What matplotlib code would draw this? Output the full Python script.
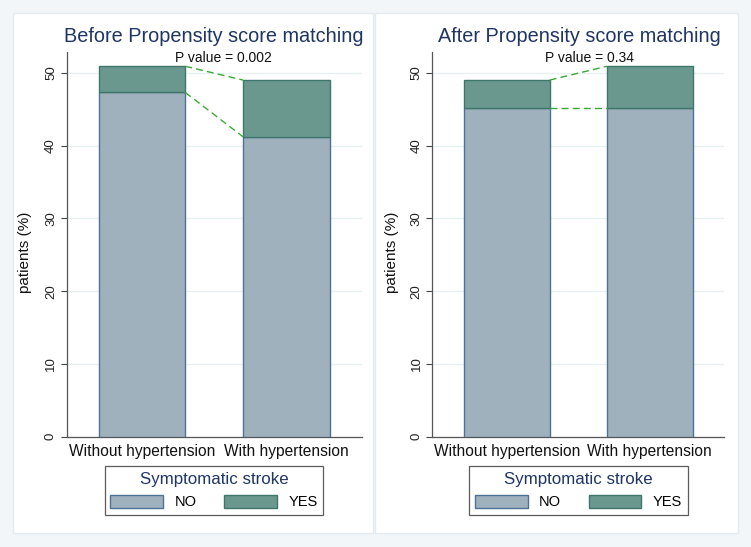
import matplotlib
matplotlib.use("Agg")
import matplotlib.pyplot as plt
from matplotlib.patches import Rectangle, Patch

categories = ["Without hypertension", "With hypertension"]
before_no = [47.3, 41.2]
before_yes = [3.6, 7.8]
after_no = [45.2, 45.2]
after_yes = [3.8, 5.7]
titles = ["Before Propensity score matching", "After Propensity score matching"]
pvalues = ["P value = 0.002", "P value = 0.34"]
yticks = [0, 10, 20, 30, 40, 50]

W, H = 751, 547
plt.rcParams["font.family"] = ["Liberation Sans", "DejaVu Sans"]
fig = plt.figure(figsize=(W / 100, H / 100), dpi=100)
fig.patch.set_facecolor("#f3f6f9")

NO_FC, NO_EC = "#a0b1be", "#4f7196"
YES_FC, YES_EC = "#6a988f", "#3e766c"
NAVY = "#1f3563"
GREEN = "#3aaa35"

def px(x0, y0, x1, y1):
    return [x0 / W, 1 - y1 / H, (x1 - x0) / W, (y1 - y0) / H]

panels = [(13, 13, 373, 533), (375, 13, 738, 533)]
for (x0, y0, x1, y1) in panels:
    fig.patches.append(Rectangle((x0 / W, 1 - y1 / H), (x1 - x0) / W, (y1 - y0) / H,
                                 transform=fig.transFigure, facecolor="white",
                                 edgecolor="#e2ebf0", linewidth=1.0, zorder=-10))

axes_px = [(66.7, 51.7, 361.7, 436.7), (432.3, 51.7, 724.3, 436.7)]
data = [(before_no, before_yes), (after_no, after_yes)]
title_x = [213.5, 579]
ylabel_x = [25, 392]
legend_cx = [214, 578.7]

for i in range(2):
    ax = fig.add_axes(px(*axes_px[i]))
    ax.set_facecolor("none")
    no, yes = data[i]
    xs = [0, 1]
    width = 0.6
    ax.bar(xs, no, width=width, color=NO_FC, edgecolor=NO_EC, linewidth=1.0, zorder=3)
    ax.bar(xs, yes, bottom=no, width=width, color=YES_FC, edgecolor=YES_EC, linewidth=1.0, zorder=3)
    tot = [n + y for n, y in zip(no, yes)]
    ax.plot([0 + width / 2, 1 - width / 2], [no[0], no[1]], ls=(0, (5, 3)), color=GREEN, lw=1.0, zorder=4)
    ax.plot([0 + width / 2, 1 - width / 2], [tot[0], tot[1]], ls=(0, (5, 3)), color=GREEN, lw=1.0, zorder=4)
    ax.set_xlim(-0.52, 1.52)
    ax.set_ylim(0, 52.9)
    ax.set_yticks(yticks)
    ax.set_yticklabels([str(t) for t in yticks], rotation=90, va="center", fontsize=9.5, color="#222222")
    ax.set_xticks(xs)
    ax.set_xticklabels(categories, fontsize=11.2, color="#111111")
    ax.tick_params(axis="x", length=0, pad=5)
    ax.tick_params(axis="y", length=4, width=0.8, color="#444444", pad=3)
    ax.grid(axis="y", color="#e6f0f2", lw=0.9, zorder=0)
    ax.set_axisbelow(True)
    for s in ["top", "right"]:
        ax.spines[s].set_visible(False)
    for s in ["left", "bottom"]:
        ax.spines[s].set_color("#555555")
        ax.spines[s].set_linewidth(0.9)
    fig.text(title_x[i] / W, 1 - 37 / H, titles[i], ha="center", va="center", fontsize=14.3, color=NAVY)
    fig.text((axes_px[i][0] + 157) / W, 1 - 58 / H, pvalues[i], ha="center", va="center", fontsize=10, color="#111111")
    fig.text(ylabel_x[i] / W, 1 - 252 / H, "patients (%)", rotation=90, ha="center", va="center", fontsize=11, color="#111111")
    handles = [Patch(facecolor=NO_FC, edgecolor=NO_EC, label="NO"),
               Patch(facecolor=YES_FC, edgecolor=YES_EC, label="YES")]
    leg = ax.legend(handles=handles, title="Symptomatic stroke", ncol=2, loc="center",
                    bbox_to_anchor=(legend_cx[i] / W, 1 - 490.5 / H), bbox_transform=fig.transFigure,
                    fontsize=10.5, title_fontsize=12.2, frameon=True, fancybox=False,
                    handlelength=3.6, handleheight=0.95, columnspacing=1.9, handletextpad=0.8,
                    borderpad=0.4, labelspacing=0.2, borderaxespad=0)
    leg._legend_box.sep = 6
    leg.get_title().set_color(NAVY)
    leg.get_frame().set_edgecolor("#333333")
    leg.get_frame().set_linewidth(0.9)

fig.savefig("out.png", dpi=100, facecolor=fig.get_facecolor())
